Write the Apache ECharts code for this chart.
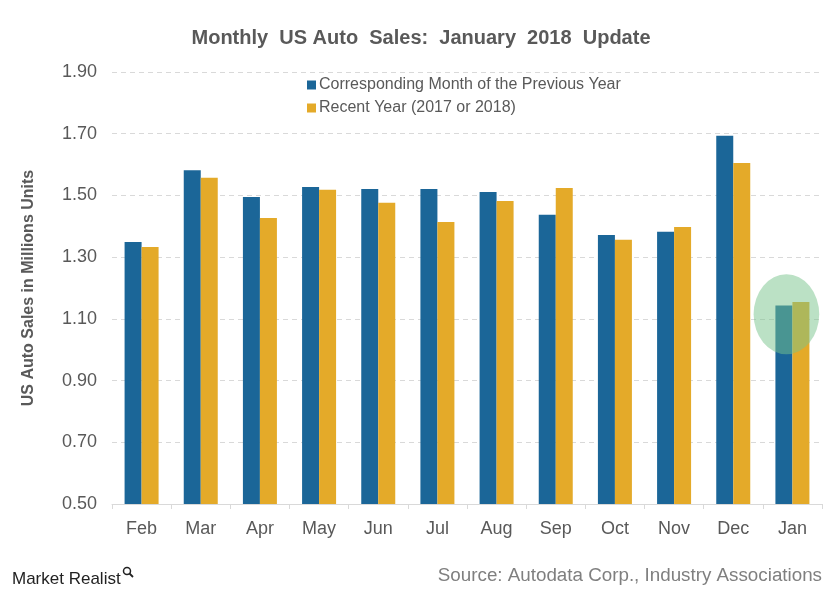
<!DOCTYPE html>
<html>
<head>
<meta charset="utf-8">
<script src="https://cdn.jsdelivr.net/npm/echarts@6/dist/echarts.min.js"></script>
<style>html,body{margin:0;padding:0;background:#fff;}#c{width:840px;height:602px;}</style>
</head>
<body>
<div id="c"></div>
<script>
var months = ['Feb','Mar','Apr','May','Jun','Jul','Aug','Sep','Oct','Nov','Dec','Jan'];
var previousYear = [1.349,1.582,1.495,1.527,1.521,1.521,1.511,1.437,1.372,1.382,1.693,1.143];
var recentYear   = [1.333,1.557,1.427,1.518,1.476,1.414,1.482,1.524,1.356,1.398,1.605,1.155];
var seriesNames = ['Corresponding Month of the Previous Year','Recent Year (2017 or 2018)'];

var chart = echarts.init(document.getElementById('c'));
chart.setOption({
  animation: false,
  backgroundColor: '#fff',
  title: {
    text: 'Monthly  US Auto  Sales:  January  2018  Update',
    left: 416, top: 23, textAlign: 'center',
    textStyle: {fontFamily: 'Liberation Sans, Arial', fontSize: 20, fontWeight: 'bold', color: '#595959'}
  },
  legend: {
    orient: 'vertical', left: 302, top: 72, itemGap: 7,
    itemWidth: 9, itemHeight: 9, icon: 'rect',
    textStyle: {fontFamily: 'Liberation Sans, Arial', fontSize: 16, color: '#595959', padding: [0,0,0,-2]},
    data: seriesNames
  },
  grid: {left: 112, right: 18, top: 72, bottom: 98},
  xAxis: {
    type: 'category', data: months,
    axisLine: {lineStyle: {color: '#d9d9d9'}},
    axisTick: {show: true, length: 5, lineStyle: {color: '#d9d9d9'}},
    axisLabel: {fontFamily: 'Liberation Sans, Arial', fontSize: 18, color: '#595959', margin: 16}
  },
  yAxis: {
    type: 'value', min: 0.5, max: 1.9, interval: 0.2,
    name: 'US Auto Sales in Millions Units', nameLocation: 'middle', nameGap: 75,
    nameTextStyle: {fontFamily: 'Liberation Sans, Arial', fontSize: 16, fontWeight: 'bold', color: '#595959'},
    axisLabel: {fontFamily: 'Liberation Sans, Arial', fontSize: 18, color: '#595959', margin: 15,
      formatter: function(v){ return v.toFixed(2); }},
    axisLine: {show: false}, axisTick: {show: false},
    splitLine: {lineStyle: {color: '#d9d9d9', type: [5,4]}}
  },
  series: [
    {name: seriesNames[0], type: 'bar', data: previousYear, barWidth: 17, barGap: '0%', itemStyle: {color: '#1b6698'}},
    {name: seriesNames[1], type: 'bar', data: recentYear, barWidth: 17, barGap: '0%', itemStyle: {color: '#e4aa29'}}
  ]
});

var p = chart.convertToPixel({xAxisIndex: 0, yAxisIndex: 0}, ['Jan', 1.115]);
chart.setOption({
  graphic: [
    {type: 'circle', shape: {cx: 0, cy: 0, r: 40}, x: p[0] - 6, y: p[1], scaleX: 0.82, scaleY: 1,
     style: {fill: 'rgba(120,196,140,0.5)'}, z: 100},
    {type: 'text', right: 18, top: 566,
     style: {text: 'Source: Autodata Corp., Industry Associations', fontFamily: 'Liberation Sans, Arial', fontSize: 18.8, fill: '#7f7f7f'}},
    {type: 'text', left: 12, top: 571,
     style: {text: 'Market Realist', fontFamily: 'Liberation Sans Narrow, Liberation Sans, Arial', fontSize: 17, fill: '#222'}},
    {type: 'circle', shape: {cx: 127, cy: 571, r: 3.5}, style: {fill: 'none', stroke: '#222', lineWidth: 1.5}},
    {type: 'line', shape: {x1: 129.5, y1: 573.5, x2: 133, y2: 577}, style: {stroke: '#222', lineWidth: 1.8}}
  ]
});
</script>
</body>
</html>
